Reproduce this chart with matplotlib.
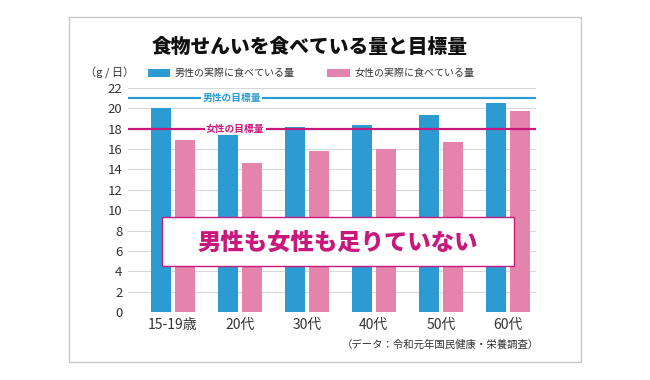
import matplotlib
matplotlib.use("Agg")
import matplotlib.pyplot as plt
from matplotlib.patches import Rectangle

plt.rcParams['font.family'] = ['Noto Sans CJK JP', 'DejaVu Sans']

categories = ["15-19歳", "20代", "30代", "40代", "50代", "60代"]
male = [20.0, 17.4, 18.2, 18.4, 19.3, 20.5]
female = [16.9, 14.6, 15.8, 16.0, 16.7, 19.7]
male_target = 21
female_target = 18
yticks = [0, 2, 4, 6, 8, 10, 12, 14, 16, 18, 20, 22]

BLUE = "#2b9bd2"
PINK = "#e484ad"
MAG = "#c8187c"

fig = plt.figure(figsize=(6.5, 3.8), dpi=100)
fig.patches.append(Rectangle((69/650, 1-362/380), (581-69)/650, (362-17)/380,
                             transform=fig.transFigure, fill=False,
                             edgecolor="#c8c8c8", linewidth=1.0))
ax = fig.add_axes([128/650, 1-312/380, (536-128)/650, (312-88)/380])

x = list(range(len(categories)))
w = 0.30
ax.bar([i - 0.18 for i in x], male, width=w, color=BLUE, zorder=2)
ax.bar([i + 0.18 for i in x], female, width=w, color=PINK, zorder=2)

ax.set_xlim(-0.67, 5.42)
ax.set_ylim(0, 22)
ax.set_yticks(yticks)
ax.yaxis.grid(True, color="#d8d8d8", linewidth=0.8, zorder=0)
ax.set_axisbelow(True)
for s in ax.spines.values():
    s.set_visible(False)
ax.tick_params(axis='y', length=0, labelsize=9.5, labelcolor="#333333", pad=4)
ax.tick_params(axis='x', length=0, labelsize=10, labelcolor="#333333", pad=4)
ax.set_xticks(x)
ax.set_xticklabels(categories)

ax.axhline(male_target, color=BLUE, linewidth=1.6, zorder=3)
ax.axhline(female_target, color=MAG, linewidth=1.6, zorder=3)
ax.text(0.88, male_target, "男性の目標量", color=BLUE, fontsize=7, fontweight='bold',
        ha='center', va='center', zorder=4,
        bbox=dict(facecolor='white', edgecolor='none', pad=1))
ax.text(0.93, female_target, "女性の目標量", color=MAG, fontsize=7, fontweight='bold',
        ha='center', va='center', zorder=4,
        bbox=dict(facecolor='white', edgecolor='none', pad=1))

ax.add_patch(Rectangle((-0.16, 4.5), 5.25, 4.83, facecolor='white',
                       edgecolor=MAG, linewidth=1.0, zorder=5))
ax.text(2.465, 6.8, "男性も女性も足りていない", color=MAG, fontsize=16.8,
        fontweight='black', ha='center', va='center', zorder=6)

fig.text(310/650, 1-47/380, "食物せんいを食べている量と目標量", fontsize=14.2,
         fontweight='black', ha='center', va='center', color="#111111")
fig.text(110/650, 1-73/380, "（g / 日）", fontsize=8, ha='center', va='center', color="#333333")
fig.patches.append(Rectangle((148/650, 1-77/380), 22/650, 8/380, transform=fig.transFigure,
                             facecolor=BLUE, edgecolor='none'))
fig.text(175/650, 1-73/380, "男性の実際に食べている量", fontsize=7.2, ha='left', va='center', color="#333333")
fig.patches.append(Rectangle((327/650, 1-77/380), 23/650, 8/380, transform=fig.transFigure,
                             facecolor=PINK, edgecolor='none'))
fig.text(355/650, 1-73/380, "女性の実際に食べている量", fontsize=7.2, ha='left', va='center', color="#333333")

fig.text(539/650, 1-345/380, "（データ：令和元年国民健康・栄養調査）", fontsize=7.5,
         ha='right', va='center', color="#333333")

fig.savefig("out.png", dpi=100, facecolor='white')
